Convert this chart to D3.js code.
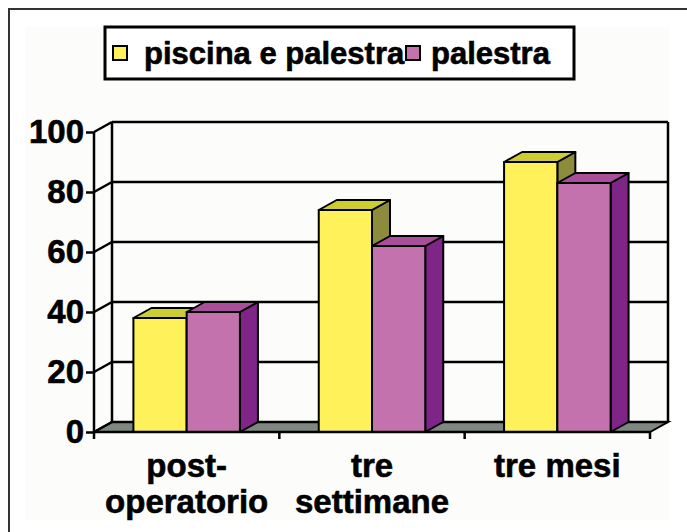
<!DOCTYPE html>
<html>
<head>
<meta charset="utf-8">
<script src="https://cdn.jsdelivr.net/npm/d3@7"></script>
<style>
  body { margin: 0; background: #fff; }
  svg { display: block; font-family: Arial, "Liberation Sans", sans-serif; font-weight: bold; }
  text { stroke: #000; stroke-width: 0.6px; }
</style>
</head>
<body>
<svg id="chart" width="687" height="532"></svg>
<script>
const categories = [['post-', 'operatorio'], ['tre', 'settimane'], ['tre mesi']];
const seriesNames = ['piscina e palestra', 'palestra'];
const piscinaValues = [38, 74, 90];
const palestraValues = [40, 62, 83];
const yTicks = [0, 20, 40, 60, 80, 100];

const COLORS = [
  { face: '#fef15a', top: '#cccc33', side: '#8c8c3c' },
  { face: '#c472ad', top: '#a84e9b', side: '#7f2588' },
];

const svg = d3.select('#chart');

// depth of the 3d box
const DX = 18;
const DY = -10;

const x = d3.scaleBand()
  .domain(d3.range(categories.length))
  .range([94, 650]);

const xs = d3.scaleBand()
  .domain(d3.range(seriesNames.length))
  .range([0, x.bandwidth()])
  .paddingOuter(0.74);

const y = d3.scaleLinear().domain([0, 100]).range([432, 132]);

// outer frame
svg.append('rect')
  .attr('x', 25).attr('y', 27).attr('width', 644).attr('height', 493)
  .attr('fill', '#fcfcfa');
svg.append('path')
  .attr('d', 'M9,532 L9,9 L687,9')
  .attr('fill', 'none')
  .attr('stroke', '#333')
  .attr('stroke-width', 2);

const x0 = x.range()[0];
const x1 = x.range()[1];

// floor
svg.append('path')
  .attr('d', `M${x0},${y(0)} L${x1},${y(0)} L${x1 + DX},${y(0) + DY} L${x0 + DX},${y(0) + DY} Z`)
  .attr('fill', '#7f8880')
  .attr('stroke', '#000')
  .attr('stroke-width', 2);

// grid on back wall and left wall
const grid = svg.append('g');
yTicks.forEach(t => {
  grid.append('line')
    .attr('x1', x0 + DX).attr('x2', x1 + DX)
    .attr('y1', y(t) + DY).attr('y2', y(t) + DY)
    .attr('stroke', '#000').attr('stroke-width', 2.5);
  grid.append('line')
    .attr('x1', x0).attr('x2', x0 + DX)
    .attr('y1', y(t)).attr('y2', y(t) + DY)
    .attr('stroke', '#000').attr('stroke-width', 2.5);
});
grid.append('line')
  .attr('x1', x0 + DX).attr('x2', x0 + DX)
  .attr('y1', y(100) + DY).attr('y2', y(0) + DY)
  .attr('stroke', '#000').attr('stroke-width', 2.5);
grid.append('line')
  .attr('x1', x1 + DX).attr('x2', x1 + DX)
  .attr('y1', y(100) + DY).attr('y2', y(0) + DY)
  .attr('stroke', '#000').attr('stroke-width', 2.5);

// bars
const allValues = [piscinaValues, palestraValues];
const bars = svg.append('g');
categories.forEach((c, ci) => {
  allValues.forEach((vals, si) => {
    const bx = x(ci) + xs(si);
    const bw = xs.bandwidth();
    const yt = y(vals[ci]);
    const yb = y(0);
    const col = COLORS[si];
    const g = bars.append('g')
      .attr('stroke', '#000')
      .attr('stroke-width', 2)
      .attr('stroke-linejoin', 'round');
    // side
    g.append('path')
      .attr('d', `M${bx + bw},${yb} L${bx + bw + DX},${yb + DY} L${bx + bw + DX},${yt + DY} L${bx + bw},${yt} Z`)
      .attr('fill', col.side);
    // top
    g.append('path')
      .attr('d', `M${bx},${yt} L${bx + DX},${yt + DY} L${bx + bw + DX},${yt + DY} L${bx + bw},${yt} Z`)
      .attr('fill', col.top);
    // face
    g.append('rect')
      .attr('x', bx).attr('y', yt)
      .attr('width', bw).attr('height', yb - yt)
      .attr('fill', col.face);
  });
});

// y axis
const yAxis = svg.append('g')
  .attr('transform', `translate(${x0},0)`)
  .call(d3.axisLeft(y).tickValues(yTicks).tickSize(8).tickPadding(2));
yAxis.select('.domain').attr('stroke-width', 2.5).attr('d', `M0,${y(100)}V${y(0)}`);
yAxis.selectAll('.tick line').attr('stroke-width', 2.5);
yAxis.selectAll('.tick text')
  .attr('font-size', 33)
  .attr('font-weight', 'bold')
  .attr('font-family', 'Arial, "Liberation Sans", sans-serif')
  .attr('fill', '#000');

// x axis ticks
const xTickPos = d3.range(categories.length + 1).map(i => x0 + i * x.step());
svg.append('g').selectAll('line')
  .data(xTickPos)
  .join('line')
  .attr('x1', d => d).attr('x2', d => d)
  .attr('y1', y(0)).attr('y2', y(0) + 7)
  .attr('stroke', '#000').attr('stroke-width', 2.5);
svg.append('line')
  .attr('x1', x0).attr('x2', x1)
  .attr('y1', y(0)).attr('y2', y(0))
  .attr('stroke', '#000').attr('stroke-width', 2.5);

// category labels
const catLabels = svg.append('g')
  .attr('font-size', 33)
  .attr('text-anchor', 'middle');
categories.forEach((lines, ci) => {
  const t = catLabels.append('text')
    .attr('x', x(ci) + x.bandwidth() / 2)
    .attr('y', 477);
  lines.forEach((ln, li) => {
    t.append('tspan')
      .attr('x', x(ci) + x.bandwidth() / 2)
      .attr('dy', li === 0 ? 0 : 36)
      .text(ln);
  });
});

// legend
const legend = svg.append('g');
legend.append('rect')
  .attr('x', 105).attr('y', 27).attr('width', 469).attr('height', 52)
  .attr('fill', '#fff')
  .attr('stroke', '#000')
  .attr('stroke-width', 3);
const legendX = [113, 406];
seriesNames.forEach((name, i) => {
  legend.append('rect')
    .attr('x', legendX[i]).attr('y', 46)
    .attr('width', 14).attr('height', 14)
    .attr('fill', COLORS[i].face)
    .attr('stroke', '#000').attr('stroke-width', 2);
  legend.append('text')
    .attr('x', legendX[i] + (i === 0 ? 31 : 25))
    .attr('y', 64)
    .attr('font-size', 31)
    .text(name);
});
</script>
</body>
</html>
